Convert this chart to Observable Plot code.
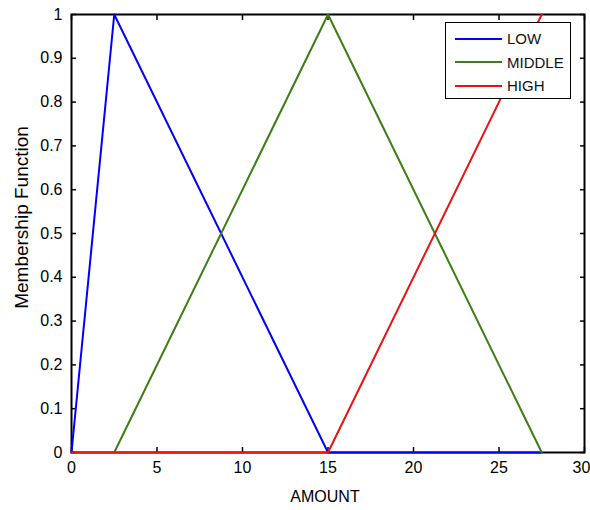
<!DOCTYPE html>
<html>
<head>
<meta charset="utf-8">
<script src="https://cdn.jsdelivr.net/npm/d3@7"></script>
<script src="https://cdn.jsdelivr.net/npm/@observablehq/plot@0.6"></script>
<style>
  html, body { margin: 0; padding: 0; background: #fff; }
  #wrap { position: relative; width: 590px; height: 510px; font-family: "Liberation Sans", Arial, sans-serif; }
  #legend { position: absolute; left: 445px; top: 22px; width: 126px; height: 77px; border: 1.5px solid #000; background: #fff; box-sizing: border-box; }
  .row { position: absolute; left: 9px; height: 16px; display: flex; align-items: center; font-size: 15px; color: #111; }
  .sw { width: 47px; height: 0; border-top: 2px solid; margin-right: 5px; }
</style>
</head>
<body>
<div id="wrap">
  <div id="chart"></div>
  <div id="legend"></div>
</div>
<script>
const xTicks = [0, 5, 10, 15, 20, 25, 30];
const yTicks = [0, 0.1, 0.2, 0.3, 0.4, 0.5, 0.6, 0.7, 0.8, 0.9, 1];
const xLabel = ["AMOUNT"];
const yLabel = ["Membership Function"];
const seriesNames = ["LOW", "MIDDLE", "HIGH"];
const seriesColors = ["#0000ff", "#3c7d16", "#ee1111"];
const lowX = [0, 2.5, 15, 27.5];
const lowY = [0, 1, 0, 0];
const middleX = [2.5, 15, 27.5];
const middleY = [0, 1, 0];
const highX = [0, 15, 27.5];
const highY = [0, 0, 1];

const toPts = (xs, ys) => xs.map((x, i) => ({x, y: ys[i]}));
const low = toPts(lowX, lowY), middle = toPts(middleX, middleY), high = toPts(highX, highY);
const lastX = xTicks[xTicks.length - 1];

const chart = Plot.plot({
  width: 590,
  height: 510,
  marginLeft: 71,
  marginRight: 6,
  marginTop: 14,
  marginBottom: 58,
  style: {fontFamily: "'Liberation Sans', Arial, sans-serif", fontSize: "16px", color: "#000", background: "#fff"},
  x: {domain: [0, 30]},
  y: {domain: [0, 1]},
  marks: [
    Plot.frame({stroke: "#000", strokeWidth: 2}),
    Plot.axisX(xTicks, {anchor: "bottom", tickSize: -5, strokeWidth: 1.5, tickFormat: () => "", label: null}),
    Plot.axisX(xTicks, {anchor: "top", tickSize: -5, strokeWidth: 1.5, tickFormat: () => "", label: null}),
    Plot.axisY(yTicks, {anchor: "left", tickSize: -5, strokeWidth: 1.5, tickFormat: () => "", label: null}),
    Plot.axisY(yTicks, {anchor: "right", tickSize: -5, strokeWidth: 1.5, tickFormat: () => "", label: null}),
    Plot.text(xTicks, {x: d => d, text: d => String(d), frameAnchor: "bottom", textAnchor: "middle", lineAnchor: "top", dy: 9, dx: 0, fontSize: 16, fill: "#000", filter: d => d !== lastX}),
    Plot.text([lastX], {x: d => d, text: d => String(d), frameAnchor: "bottom", textAnchor: "middle", lineAnchor: "top", dy: 9, dx: -3, fontSize: 16, fill: "#000"}),
    Plot.text(yTicks, {y: d => d, text: d => String(d), frameAnchor: "left", textAnchor: "end", lineAnchor: "middle", dx: -9, fontSize: 16, fill: "#000"}),
    Plot.text(xLabel, {frameAnchor: "bottom", textAnchor: "middle", dx: -3, dy: 49, fontSize: 16, fill: "#000"}),
    Plot.text(yLabel, {frameAnchor: "left", textAnchor: "middle", dx: -50, dy: -16, rotate: -90, fontSize: 19, fill: "#000"}),
    Plot.line(low, {x: "x", y: "y", stroke: seriesColors[0], strokeWidth: 2}),
    Plot.line(middle, {x: "x", y: "y", stroke: seriesColors[1], strokeWidth: 2}),
    Plot.line(high, {x: "x", y: "y", stroke: seriesColors[2], strokeWidth: 2})
  ]
});
document.getElementById("chart").appendChild(chart);

const legend = document.getElementById("legend");
seriesNames.forEach((name, i) => {
  const row = document.createElement("div");
  row.className = "row";
  row.style.top = (7.5 + i * 23.5) + "px";
  const sw = document.createElement("div");
  sw.className = "sw";
  sw.style.borderColor = seriesColors[i];
  row.appendChild(sw);
  const t = document.createElement("span");
  t.textContent = name;
  row.appendChild(t);
  legend.appendChild(row);
});
</script>
</body>
</html>
